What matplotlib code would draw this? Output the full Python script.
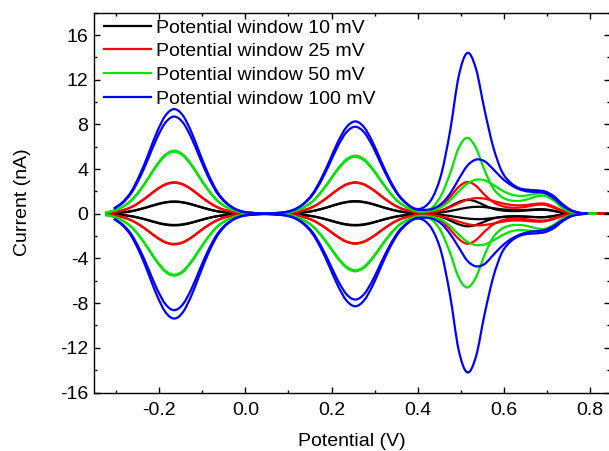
import numpy as np
import matplotlib
matplotlib.use('Agg')
import matplotlib.pyplot as plt
from matplotlib.ticker import MultipleLocator, FormatStrFormatter
from matplotlib.path import Path
from matplotlib.patches import PathPatch

nan = np.nan

# sampled potentials (V), 0.02 V apart, -0.325 ... 0.855
potential = np.linspace(-0.325, 0.855, 60)

labels = ['Potential window 10 mV', 'Potential window 25 mV',
          'Potential window 50 mV', 'Potential window 100 mV']

# currents (nA), two scans up and two down per window
black_up_a = [0.02, 0.06, 0.12, 0.23, 0.41, 0.63, 0.86, 1.03, 1.1, 1.03, 0.86, 0.63, 0.41, 0.23, 0.12, 0.06, 0.02, 0.01, 0.0, 0.0,
              0.01, 0.02, 0.06, 0.12, 0.24, 0.42, 0.64, 0.88, 1.06, 1.13, 1.06, 0.88, 0.64, 0.42, 0.24, 0.12, 0.06,
              0.05, 0.1, 0.3, 0.65, 1.05, 1.25, 1.1, 0.75, 0.45, 0.3, 0.25, 0.25, 0.3, 0.35, 0.35, 0.25, 0.1, 0.03, 0.0, 0.0, 0.0, 0.0, 0.0]
black_up_b = [0.02, 0.05, 0.12, 0.22, 0.4, 0.61, 0.83, 1.01, 1.07, 1.01, 0.83, 0.61, 0.4, 0.22, 0.12, 0.05, 0.02, 0.01, 0.0, 0.0,
              0.01, 0.02, 0.06, 0.12, 0.23, 0.41, 0.63, 0.86, 1.03, 1.1, 1.03, 0.86, 0.63, 0.41, 0.23, 0.12, 0.06,
              0.05, 0.06, 0.12, 0.25, 0.4, 0.55, 0.62, 0.6, 0.5, 0.4, 0.35, 0.33, 0.35, 0.4, 0.4, 0.28, 0.12, 0.03, 0.0, 0.0, 0.0, 0.0, 0.0]
black_dn_a = [-0.02, -0.05, -0.11, -0.22, -0.38, -0.59, -0.81, -0.98, -1.04, -0.98, -0.81, -0.59, -0.38, -0.22, -0.11, -0.05, -0.02, -0.01, 0.0, 0.0,
              -0.01, -0.02, -0.05, -0.11, -0.22, -0.38, -0.59, -0.81, -0.98, -1.04, -0.98, -0.81, -0.59, -0.38, -0.22, -0.11, -0.05,
              -0.05, -0.1, -0.28, -0.6, -0.95, -1.12, -1.0, -0.7, -0.42, -0.28, -0.22, -0.22, -0.26, -0.3, -0.3, -0.2, -0.08, -0.02, 0.0, 0.0, 0.0, 0.0, 0.0]
black_dn_b = [-0.02, -0.05, -0.11, -0.21, -0.37, -0.57, -0.78, -0.94, -1.0, -0.94, -0.78, -0.57, -0.37, -0.21, -0.11, -0.05, -0.02, -0.01, 0.0, 0.0,
              -0.01, -0.02, -0.05, -0.11, -0.21, -0.37, -0.57, -0.78, -0.94, -1.0, -0.94, -0.78, -0.57, -0.37, -0.21, -0.11, -0.05,
              -0.05, -0.06, -0.1, -0.2, -0.32, -0.42, -0.48, -0.46, -0.38, -0.3, -0.26, -0.25, -0.27, -0.3, -0.3, -0.2, -0.08, -0.02, 0.0, 0.0, 0.0, 0.0, 0.0]

red_up_a = [0.06, 0.14, 0.31, 0.59, 1.04, 1.61, 2.2, 2.65, 2.82, 2.65, 2.2, 1.61, 1.04, 0.59, 0.31, 0.14, 0.06, 0.03, 0.01, 0.01,
            0.03, 0.06, 0.14, 0.31, 0.59, 1.04, 1.61, 2.2, 2.65, 2.82, 2.65, 2.2, 1.61, 1.04, 0.59, 0.31, 0.14,
            0.1, 0.25, 0.7, 1.5, 2.4, 2.85, 2.5, 1.7, 1.05, 0.7, 0.55, 0.55, 0.65, 0.8, 0.8, 0.55, 0.25, 0.07, 0.02, 0.0, 0.0, 0.0, nan]
red_up_b = [0.06, 0.14, 0.31, 0.58, 1.03, 1.58, 2.17, 2.61, 2.78, 2.61, 2.17, 1.58, 1.03, 0.58, 0.31, 0.14, 0.06, 0.03, 0.01, 0.01,
            0.03, 0.06, 0.14, 0.31, 0.58, 1.03, 1.58, 2.17, 2.61, 2.78, 2.61, 2.17, 1.58, 1.03, 0.58, 0.31, 0.14,
            0.1, 0.15, 0.3, 0.6, 0.95, 1.25, 1.4, 1.35, 1.15, 0.95, 0.8, 0.75, 0.8, 0.9, 0.9, 0.65, 0.3, 0.08, 0.02, 0.0, 0.0, 0.0, nan]
red_dn_a = [-0.05, -0.14, -0.3, -0.58, -1.01, -1.56, -2.14, -2.58, -2.74, -2.58, -2.14, -1.56, -1.01, -0.58, -0.3, -0.14, -0.05, -0.03, -0.01, -0.01,
            -0.03, -0.05, -0.13, -0.29, -0.56, -0.99, -1.53, -2.09, -2.52, -2.68, -2.52, -2.09, -1.53, -0.99, -0.56, -0.29, -0.13,
            -0.1, -0.25, -0.65, -1.4, -2.25, -2.68, -2.35, -1.6, -0.95, -0.6, -0.45, -0.45, -0.5, -0.6, -0.6, -0.4, -0.18, -0.05, 0.0, 0.0, 0.0, 0.0, nan]
red_dn_b = [-0.05, -0.14, -0.3, -0.57, -1.0, -1.54, -2.11, -2.54, -2.7, -2.54, -2.11, -1.54, -1.0, -0.57, -0.3, -0.14, -0.05, -0.03, -0.01, -0.01,
            -0.03, -0.05, -0.13, -0.29, -0.55, -0.98, -1.5, -2.06, -2.48, -2.64, -2.48, -2.06, -1.5, -0.98, -0.55, -0.29, -0.13,
            -0.1, -0.12, -0.25, -0.45, -0.7, -0.92, -1.04, -1.0, -0.88, -0.72, -0.62, -0.6, -0.65, -0.7, -0.68, -0.48, -0.22, -0.06, 0.0, 0.0, 0.0, 0.0, nan]

green_up_a = [0.11, 0.28, 0.62, 1.19, 2.09, 3.22, 4.41, 5.31, 5.65, 5.31, 4.41, 3.22, 2.09, 1.19, 0.62, 0.28, 0.11, 0.06, 0.02, 0.02,
              0.05, 0.1, 0.26, 0.57, 1.09, 1.92, 2.96, 4.06, 4.89, 5.2, 4.89, 4.06, 2.96, 1.92, 1.09, 0.57, 0.26,
              0.2, 0.6, 1.7, 3.6, 5.9, 6.8, 5.9, 3.9, 2.3, 1.5, 1.2, 1.15, 1.3, 1.55, 1.6, 1.2, 0.55, 0.15, 0.03, 0.0, 0.0, nan, nan]
green_up_b = [0.11, 0.28, 0.61, 1.17, 2.05, 3.16, 4.33, 5.22, 5.55, 5.22, 4.33, 3.16, 2.05, 1.17, 0.61, 0.28, 0.11, 0.06, 0.02, 0.02,
              0.05, 0.1, 0.26, 0.56, 1.07, 1.89, 2.91, 3.98, 4.79, 5.1, 4.79, 3.98, 2.91, 1.89, 1.07, 0.56, 0.25,
              0.2, 0.3, 0.6, 1.2, 2.0, 2.7, 3.05, 3.0, 2.6, 2.1, 1.75, 1.6, 1.65, 1.8, 1.8, 1.4, 0.7, 0.2, 0.05, 0.0, 0.0, nan, nan]
green_dn_a = [-0.11, -0.28, -0.61, -1.16, -2.05, -3.16, -4.32, -5.21, -5.54, -5.21, -4.32, -3.16, -2.05, -1.16, -0.61, -0.28, -0.11, -0.06, -0.02, -0.02,
              -0.05, -0.1, -0.26, -0.57, -1.08, -1.91, -2.94, -4.02, -4.84, -5.15, -4.84, -4.02, -2.94, -1.91, -1.08, -0.57, -0.26,
              -0.2, -0.6, -1.65, -3.5, -5.7, -6.6, -5.7, -3.7, -2.1, -1.35, -1.05, -1.0, -1.1, -1.3, -1.35, -1.0, -0.45, -0.12, -0.03, 0.0, 0.0, nan, nan]
green_dn_b = [-0.11, -0.27, -0.6, -1.14, -2.02, -3.11, -4.25, -5.12, -5.45, -5.12, -4.25, -3.11, -2.02, -1.14, -0.6, -0.27, -0.11, -0.05, -0.02, -0.02,
              -0.05, -0.1, -0.25, -0.56, -1.06, -1.87, -2.88, -3.94, -4.75, -5.05, -4.75, -3.94, -2.88, -1.87, -1.06, -0.56, -0.25,
              -0.2, -0.3, -0.55, -1.1, -1.85, -2.5, -2.8, -2.75, -2.4, -1.95, -1.6, -1.45, -1.5, -1.55, -1.5, -1.1, -0.5, -0.15, -0.03, 0.0, 0.0, nan, nan]

blue_up_a = [nan, 0.47, 1.03, 1.97, 3.47, 5.34, 7.31, 8.81, 9.37, 8.81, 7.31, 5.34, 3.47, 1.97, 1.03, 0.47, 0.19, 0.09, 0.03, 0.03,
             0.08, 0.17, 0.41, 0.91, 1.74, 3.06, 4.71, 6.45, 7.77, 8.27, 7.77, 6.45, 4.71, 3.06, 1.74, 0.91, 0.45,
             0.6, 1.5, 3.6, 7.4, 12.3, 14.4, 13.0, 9.3, 6.0, 3.8, 2.8, 2.3, 2.15, 2.1, 2.0, 1.6, 0.9, 0.35, 0.1, 0.0, nan, nan, nan]
blue_up_b = [nan, 0.44, 0.96, 1.83, 3.22, 4.96, 6.79, 8.18, 8.7, 8.18, 6.79, 4.96, 3.22, 1.83, 0.96, 0.44, 0.17, 0.09, 0.03, 0.03,
             0.08, 0.16, 0.39, 0.86, 1.64, 2.88, 4.44, 6.08, 7.32, 7.79, 7.32, 6.08, 4.44, 2.88, 1.64, 0.86, 0.4,
             0.35, 0.45, 0.9, 1.8, 3.1, 4.3, 4.85, 4.7, 4.0, 3.2, 2.6, 2.2, 2.0, 1.95, 1.85, 1.4, 0.75, 0.3, 0.08, 0.0, nan, nan, nan]
blue_dn_a = [nan, -0.47, -1.03, -1.97, -3.47, -5.35, -7.32, -8.82, -9.38, -8.82, -7.32, -5.35, -3.47, -1.97, -1.03, -0.47, -0.19, -0.09, -0.03, -0.03,
             -0.08, -0.17, -0.41, -0.91, -1.74, -3.06, -4.72, -6.46, -7.78, -8.28, -7.78, -6.46, -4.72, -3.06, -1.74, -0.91, -0.45,
             -0.6, -1.5, -3.5, -7.3, -12.2, -14.2, -12.8, -9.0, -5.7, -3.5, -2.5, -2.0, -1.8, -1.75, -1.65, -1.3, -0.7, -0.25, -0.05, 0.0, nan, nan, nan]
blue_dn_b = [nan, -0.43, -0.95, -1.81, -3.19, -4.92, -6.73, -8.11, -8.63, -8.11, -6.73, -4.92, -3.19, -1.81, -0.95, -0.43, -0.17, -0.09, -0.03, -0.03,
             -0.08, -0.15, -0.38, -0.84, -1.61, -2.84, -4.38, -5.99, -7.22, -7.68, -7.22, -5.99, -4.38, -2.84, -1.61, -0.84, -0.4,
             -0.35, -0.45, -0.9, -1.8, -3.0, -4.2, -4.7, -4.5, -3.7, -2.9, -2.3, -1.9, -1.65, -1.55, -1.45, -1.1, -0.6, -0.2, -0.05, 0.0, nan, nan, nan]


def spline_path(x, y):
    # smooth bezier through the sampled points (like a spline-connected line)
    x = np.asarray(x, float)
    y = np.asarray(y, float)
    ok = ~np.isnan(y)
    pts = np.column_stack([x[ok], y[ok]])
    ext = np.vstack([pts[0], pts, pts[-1]])
    verts = [pts[0]]
    codes = [Path.MOVETO]
    for i in range(len(pts) - 1):
        p0, p1, p2, p3 = ext[i], ext[i + 1], ext[i + 2], ext[i + 3]
        verts += [p1 + (p2 - p0) / 6, p2 - (p3 - p1) / 6, p2]
        codes += [Path.CURVE4] * 3
    return Path(verts, codes)


plt.rcParams['font.family'] = ['Liberation Sans', 'DejaVu Sans']
plt.rcParams['axes.unicode_minus'] = False

fig = plt.figure(figsize=(6.09, 4.51), dpi=100)
ax = fig.add_axes([0.1544, 0.1297, 0.8465, 0.8421])

groups = [
    ('black', [black_up_a, black_up_b, black_dn_a, black_dn_b]),
    ('#ff0000', [red_up_a, red_up_b, red_dn_a, red_dn_b]),
    ('#00e600', [green_up_a, green_up_b, green_dn_a, green_dn_b]),
    ('#0000ff', [blue_up_a, blue_up_b, blue_dn_a, blue_dn_b]),
]
for (color, curves), label in zip(groups, labels):
    for cur in curves:
        ax.add_patch(PathPatch(spline_path(potential[:len(cur)], cur), fill=False,
                               edgecolor=color, lw=1.6, joinstyle='round'))
    ax.plot([], [], color=color, lw=1.6, label=label)

ax.set_xlim(-0.351, 0.845)
ax.set_ylim(-16, 18)
ax.xaxis.set_major_locator(MultipleLocator(0.2))
ax.xaxis.set_minor_locator(MultipleLocator(0.1))
ax.xaxis.set_major_formatter(FormatStrFormatter('%.1f'))
ax.yaxis.set_major_locator(MultipleLocator(4))
ax.yaxis.set_minor_locator(MultipleLocator(2))
ax.tick_params(which='both', direction='in', top=True, right=True, width=1, labelsize=14)
ax.tick_params(which='major', length=4.5)
ax.tick_params(which='minor', length=2.5)
ax.tick_params(axis='x', pad=7)
ax.tick_params(axis='y', pad=4)
for s in ax.spines.values():
    s.set_linewidth(1)

ax.set_xlabel('Potential (V)', fontsize=14, labelpad=10)
ax.set_ylabel('Current (nA)', fontsize=14, labelpad=21)

ax.legend(loc='upper left', bbox_to_anchor=(0.004, 1.004), borderaxespad=0,
          frameon=False, fontsize=14, handlelength=2.4, handletextpad=0.3,
          labelspacing=0.31)

fig.savefig('out.png', dpi=100)
